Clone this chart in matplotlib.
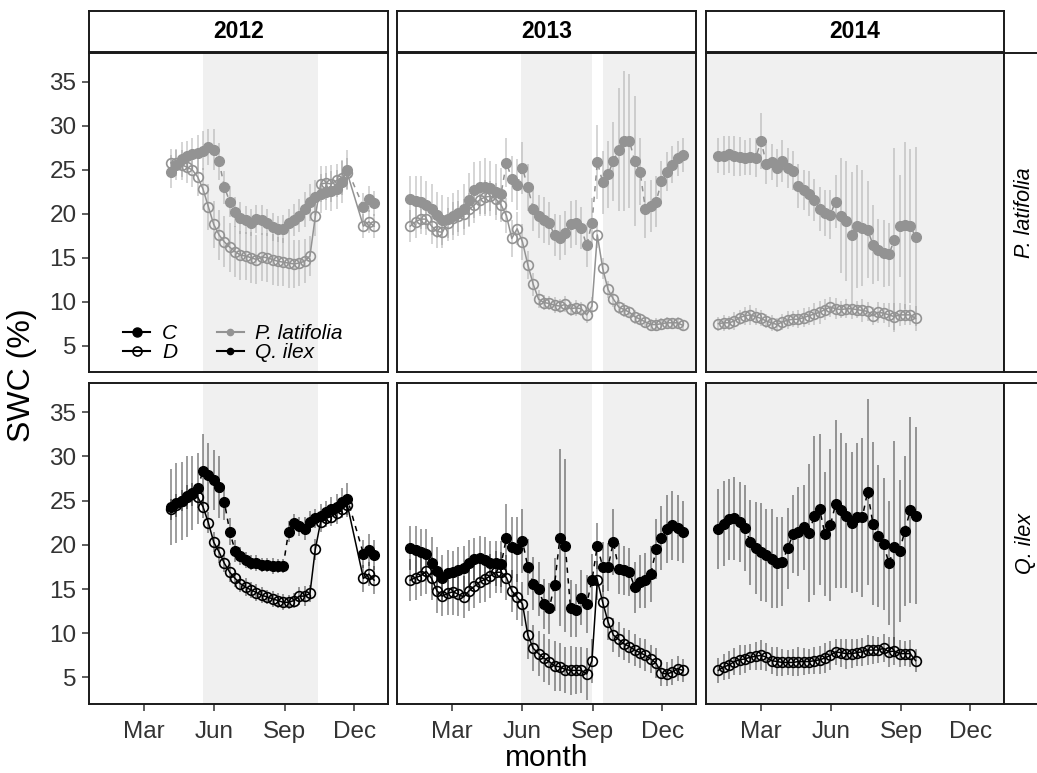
import matplotlib
matplotlib.use('Agg')
import matplotlib.pyplot as plt
from matplotlib.lines import Line2D

plt.rcParams['font.family'] = ['Liberation Sans', 'DejaVu Sans']

# measurement days (day of year) per campaign
days_2012 = [95, 102, 109, 116, 123, 130, 137, 144, 151, 158, 165, 172, 179, 186, 193, 200, 207, 214, 221,
             228, 235, 242, 249, 256, 263, 270, 277, 284, 291, 298, 305, 312, 319, 326, 347, 354, 361]
days_2013 = [5, 12, 19, 26, 33, 40, 47, 54, 61, 68, 75, 82, 89, 96, 103, 110, 117, 124, 131, 138, 145, 152,
             159, 166, 173, 180, 187, 194, 201, 208, 215, 222, 229, 236, 243, 250, 257, 264, 271, 278, 285,
             292, 299, 306, 313, 320, 327, 334, 341, 348, 355, 362]
days_2014 = [4, 11, 18, 25, 32, 39, 46, 53, 60, 67, 74, 81, 88, 95, 102, 109, 116, 123, 130, 137, 144, 151,
             158, 165, 172, 179, 186, 193, 200, 207, 214, 221, 228, 235, 242, 249, 256, 263]

# P. latifolia, mean SWC (%) and error half-widths
pl_c_2012 = [24.8, 25.6, 26.2, 26.6, 26.8, 26.9, 27.2, 27.6, 27.3, 26.0, 23.0, 21.4, 20.2, 19.5, 19.3, 19.0,
             19.4, 19.3, 19.0, 18.5, 18.3, 18.3, 18.9, 19.3, 19.8, 20.5, 21.3, 21.9, 22.3, 22.5, 22.6, 22.8,
             23.6, 25.0, 20.8, 21.7, 21.2]
pl_d_2012 = [25.8, 25.8, 25.6, 25.3, 25.0, 24.2, 22.8, 20.8, 18.8, 17.6, 16.8, 16.2, 15.7, 15.3, 15.2, 15.0,
             14.8, 15.1, 15.0, 14.8, 14.6, 14.5, 14.4, 14.3, 14.4, 14.6, 15.2, 19.7, 23.4, 23.5, 23.4, 23.8,
             24.1, 24.6, 18.6, 19.1, 18.6]
pl_c_2012_err = [1.9, 1.8, 2.0, 1.7, 1.8, 2.1, 2.2, 2.0, 2.3, 2.1, 1.9, 1.8, 1.7, 1.8, 1.6, 1.5, 1.6, 1.7, 1.5,
                 1.6, 1.5, 1.6, 1.7, 1.8, 1.9, 2.0, 2.1, 2.0, 2.2, 2.1, 2.3, 2.2, 2.4, 2.3, 1.6, 1.5, 1.4]
pl_d_2012_err = [1.6, 1.5, 1.7, 1.8, 2.0, 2.2, 2.4, 2.6, 2.7, 2.8, 2.9, 2.8, 2.9, 2.8, 2.7, 2.9, 2.8, 2.7, 2.8,
                 2.9, 2.8, 2.7, 2.8, 2.7, 2.6, 2.5, 2.3, 2.2, 2.0, 1.9, 2.1, 1.9, 2.0, 1.8, 1.4, 1.3, 1.4]

pl_c_2013 = [21.7, 21.5, 21.3, 21.0, 20.5, 19.9, 19.3, 19.4, 19.7, 20.1, 20.5, 21.6, 22.7, 23.0, 23.1, 22.9,
             22.5, 22.3, 25.8, 24.0, 23.3, 25.2, 23.0, 20.6, 19.7, 19.3, 18.9, 17.6, 17.3, 17.8, 18.8, 19.0,
             18.4, 16.4, 19.0, 25.9, 23.6, 24.5, 26.0, 27.3, 28.3, 28.3, 26.0, 24.8, 20.5, 20.9, 21.4, 23.7,
             24.8, 25.6, 26.3, 26.7]
pl_d_2013 = [18.6, 19.1, 19.4, 19.4, 18.6, 18.0, 17.9, 19.0, 19.5, 19.7, 20.0, 20.5, 21.0, 21.6, 21.9, 22.0,
             21.7, 21.0, 19.8, 17.2, 18.3, 16.8, 14.2, 12.0, 10.3, 9.9, 9.8, 9.6, 9.5, 9.7, 9.2, 9.3, 9.2, 8.5,
             9.5, 17.6, 13.8, 11.4, 10.3, 9.4, 9.1, 8.8, 8.3, 8.0, 7.7, 7.4, 7.4, 7.5, 7.6, 7.6, 7.6, 7.3]
pl_c_2013_err = [2.6, 2.8, 3.0, 2.7, 2.9, 2.6, 2.8, 2.5, 2.7, 2.6, 2.9, 3.1, 3.2, 3.0, 3.3, 3.1, 3.2, 2.9, 2.8,
                 2.6, 2.9, 3.0, 2.7, 2.5, 2.4, 2.6, 2.5, 2.4, 2.6, 2.5, 2.7, 2.6, 2.4, 2.5, 2.8, 4.2, 3.6, 3.8,
                 4.5, 7.0, 8.0, 7.6, 7.4, 3.8, 3.2, 3.0, 2.9, 2.3, 2.2, 2.1, 2.0, 1.9]
pl_d_2013_err = [1.8, 1.9, 1.7, 1.8, 2.0, 1.9, 1.8, 1.7, 1.9, 1.8, 1.7, 1.9, 2.0, 1.8, 1.9, 1.7, 1.8, 1.9, 2.0,
                 2.1, 1.9, 2.0, 1.6, 1.3, 1.0, 0.9, 0.8, 0.9, 0.8, 0.9, 0.8, 0.9, 0.8, 0.9, 1.0, 1.5, 1.2, 1.0,
                 0.9, 0.8, 0.8, 0.7, 0.8, 0.7, 0.7, 0.6, 0.7, 0.6, 0.7, 0.6, 0.7, 0.6]

pl_c_2014 = [26.6, 26.6, 26.8, 26.6, 26.5, 26.4, 26.5, 26.4, 28.3, 25.7, 25.9, 25.2, 26.0, 25.2, 24.9, 23.2,
             22.7, 22.3, 21.6, 20.5, 20.1, 19.9, 21.4, 19.8, 19.2, 17.6, 18.6, 18.4, 18.2, 16.5, 15.9, 15.5,
             15.4, 17.0, 18.6, 18.7, 18.6, 17.4]
pl_d_2014 = [7.5, 7.6, 7.6, 7.8, 8.2, 8.4, 8.5, 8.3, 8.1, 7.8, 7.6, 7.4, 7.7, 7.9, 8.0, 8.0, 8.2, 8.4, 8.6, 8.8,
             9.1, 9.4, 9.2, 9.1, 9.2, 9.2, 9.1, 9.0, 8.9, 8.4, 8.8, 8.7, 8.5, 8.3, 8.5, 8.5, 8.5, 8.1]
pl_c_2014_err = [2.0, 2.2, 2.1, 2.3, 2.2, 2.0, 2.1, 2.2, 3.2, 2.3, 2.1, 2.2, 2.4, 2.3, 2.2, 2.5, 2.3, 2.6, 2.4,
                 2.5, 2.6, 2.8, 3.0, 6.5, 6.8, 7.2, 7.0, 6.6, 5.5, 4.5, 3.5, 3.8, 3.6, 10.5, 5.8, 9.5, 8.8, 10.2]
pl_d_2014_err = [0.8, 0.9, 0.8, 1.0, 0.9, 1.0, 1.1, 1.0, 0.9, 0.8, 0.9, 0.8, 0.9, 1.0, 0.9, 1.0, 1.1, 1.0, 1.2,
                 1.3, 1.2, 1.1, 1.2, 1.0, 1.1, 1.2, 1.0, 1.3, 1.1, 1.0, 1.2, 1.1, 1.4, 1.5, 1.3, 1.2, 1.1, 1.4]

# Q. ilex
qi_c_2012 = [24.3, 24.7, 25.0, 25.5, 25.9, 26.4, 28.4, 27.9, 27.3, 26.5, 24.8, 21.5, 19.3, 18.7, 18.3, 18.0,
             17.9, 17.7, 17.7, 17.6, 17.6, 17.6, 21.5, 22.5, 22.1, 21.8, 22.6, 23.0, 23.3, 23.7, 24.0, 24.3,
             24.8, 25.2, 19.0, 19.4, 18.8]
qi_d_2012 = [24.0, 24.5, 25.0, 25.4, 25.7, 25.4, 24.3, 22.5, 20.3, 19.2, 17.9, 16.9, 16.2, 15.6, 15.2, 14.9,
             14.6, 14.3, 14.1, 13.9, 13.7, 13.5, 13.5, 13.7, 14.2, 14.2, 14.5, 19.5, 22.6, 23.0, 23.2, 23.6,
             24.1, 24.5, 16.2, 16.7, 16.0]
qi_c_2012_err = [4.3, 4.5, 4.4, 4.6, 4.2, 4.0, 4.1, 3.6, 3.4, 3.5, 2.0, 1.5, 1.2, 1.0, 0.9, 0.8, 0.9, 0.8, 0.8,
                 0.9, 0.8, 0.8, 1.2, 1.0, 1.1, 1.3, 1.2, 1.1, 1.3, 1.2, 1.4, 1.5, 1.6, 1.8, 1.6, 1.8, 1.7]
qi_d_2012_err = [1.2, 1.3, 1.2, 1.4, 1.3, 1.2, 1.3, 1.2, 1.1, 1.2, 1.0, 1.1, 1.0, 0.9, 1.0, 0.9, 1.0, 0.9, 0.8,
                 0.9, 0.8, 0.9, 0.8, 0.9, 1.0, 1.1, 1.0, 1.2, 1.1, 1.0, 1.1, 1.2, 1.1, 1.3, 1.5, 1.4, 1.6]

qi_c_2013 = [19.6, 19.4, 19.2, 19.0, 17.9, 17.0, 16.3, 16.8, 16.9, 17.1, 17.4, 17.9, 18.4, 18.5, 18.3, 18.0,
             17.9, 17.8, 20.8, 19.7, 19.5, 20.4, 17.5, 15.6, 15.0, 13.3, 12.8, 15.5, 20.8, 19.9, 12.8, 12.6,
             14.0, 13.3, 16.0, 19.9, 17.5, 17.5, 20.3, 17.3, 17.1, 16.9, 15.2, 15.8, 16.0, 16.7, 19.5, 20.8,
             21.8, 22.2, 21.9, 21.4]
qi_d_2013 = [16.0, 16.3, 16.5, 17.0, 16.2, 14.8, 14.2, 14.5, 14.7, 14.4, 14.1, 14.8, 15.3, 15.8, 16.1, 16.5,
             16.9, 16.9, 16.3, 14.8, 14.1, 13.3, 9.8, 8.3, 7.7, 7.2, 6.8, 6.3, 6.2, 5.9, 5.8, 5.8, 5.8, 5.4,
             6.9, 16.0, 13.5, 11.3, 9.8, 9.3, 8.8, 8.5, 8.1, 7.8, 7.5, 7.1, 6.6, 5.5, 5.4, 5.6, 6.0, 5.8]
qi_c_2013_err = [2.5, 2.7, 2.6, 2.8, 3.0, 2.7, 2.5, 2.6, 2.4, 2.6, 2.5, 2.7, 2.4, 2.5, 2.6, 2.4, 2.5, 2.6, 3.8,
                 3.5, 3.7, 3.6, 3.2, 3.0, 3.1, 2.8, 2.9, 3.0, 10.0, 9.8, 3.2, 3.0, 3.1, 3.3, 3.0, 2.6, 2.8, 2.7,
                 3.7, 2.9, 2.8, 2.7, 2.9, 3.0, 3.1, 3.2, 3.4, 3.6, 3.8, 3.9, 3.7, 3.5]
qi_d_2013_err = [2.4, 2.5, 2.3, 2.6, 2.4, 2.5, 2.3, 2.4, 2.6, 2.5, 2.4, 2.3, 2.5, 2.4, 2.6, 2.5, 2.4, 2.3, 2.5,
                 2.4, 2.6, 2.5, 2.7, 2.6, 2.5, 2.7, 2.6, 2.8, 2.7, 2.6, 2.8, 2.7, 2.6, 2.9, 2.5, 2.2, 2.0, 2.1,
                 1.9, 2.0, 1.8, 1.9, 1.8, 1.7, 1.8, 1.6, 1.7, 1.5, 1.4, 1.5, 1.4, 1.3]

qi_c_2014 = [21.8, 22.4, 22.9, 23.0, 22.6, 21.9, 20.3, 19.6, 19.2, 18.8, 18.4, 18.0, 18.1, 19.6, 21.2, 21.5,
             22.0, 21.3, 23.3, 24.0, 21.2, 22.2, 24.6, 23.9, 23.3, 22.5, 23.1, 23.1, 26.0, 22.4, 21.0, 20.1,
             17.9, 19.7, 19.3, 21.6, 23.9, 23.3]
qi_d_2014 = [5.8, 6.2, 6.4, 6.8, 7.0, 7.1, 7.3, 7.4, 7.5, 7.3, 6.9, 6.8, 6.7, 6.7, 6.7, 6.8, 6.8, 6.8, 6.9, 7.0,
             7.2, 7.5, 7.9, 7.8, 7.7, 7.7, 7.8, 7.9, 8.1, 8.1, 8.1, 8.3, 7.9, 8.0, 7.7, 7.7, 7.7, 6.9]
qi_c_2014_err = [4.5, 4.8, 4.6, 4.7, 4.5, 4.9, 4.8, 5.2, 5.5, 5.3, 5.6, 5.1, 5.0, 4.6, 4.4, 5.0, 4.8, 7.8, 9.0,
                 8.5, 7.0, 8.6, 9.5, 8.8, 8.2, 8.0, 8.4, 9.0, 10.5, 9.2, 8.0, 7.5, 7.0, 12.0, 8.0, 8.5, 10.5, 10.0]
qi_d_2014_err = [1.4, 1.5, 1.6, 1.5, 1.7, 1.6, 1.5, 1.6, 1.7, 1.6, 1.5, 1.6, 1.5, 1.4, 1.5, 1.6, 1.5, 1.4, 1.5,
                 1.6, 1.7, 1.6, 1.5, 1.6, 1.7, 1.6, 1.5, 1.6, 1.7, 1.6, 1.5, 1.6, 1.7, 1.6, 1.5, 1.4, 1.5, 1.3]

years = ['2012', '2013', '2014']
species = ['P. latifolia', 'Q. ilex']
month_ticks = [60, 152, 244, 335]
month_labels = ['Mar', 'Jun', 'Sep', 'Dec']

# drought (rain exclusion) periods, day of year
dry_periods = {
    '2012': [(137, 287)],
    '2013': [(150, 243.5), (257.5, 400)],
    '2014': [(-20, 400)],
}

days = {'2012': days_2012, '2013': days_2013, '2014': days_2014}
series = {
    ('P. latifolia', '2012'): (pl_c_2012, pl_c_2012_err, pl_d_2012, pl_d_2012_err),
    ('P. latifolia', '2013'): (pl_c_2013, pl_c_2013_err, pl_d_2013, pl_d_2013_err),
    ('P. latifolia', '2014'): (pl_c_2014, pl_c_2014_err, pl_d_2014, pl_d_2014_err),
    ('Q. ilex', '2012'): (qi_c_2012, qi_c_2012_err, qi_d_2012, qi_d_2012_err),
    ('Q. ilex', '2013'): (qi_c_2013, qi_c_2013_err, qi_d_2013, qi_d_2013_err),
    ('Q. ilex', '2014'): (qi_c_2014, qi_c_2014_err, qi_d_2014, qi_d_2014_err),
}
sp_color = {'P. latifolia': '#939393', 'Q. ilex': 'black'}

W, H = 1037, 773
fig = plt.figure(figsize=(W / 100, H / 100), dpi=100)


def px_axes(x0, y0, x1, y1):
    return fig.add_axes([x0 / W, 1 - y1 / H, (x1 - x0) / W, (y1 - y0) / H])


def frame(ax):
    for s in ax.spines.values():
        s.set_linewidth(1.4)
        s.set_color('#1a1a1a')


col_x = [(89, 388), (397, 696), (706, 1004)]
row_y = [(53, 372), (383, 704)]
TICK_FS = 17.5

for r, sp in enumerate(species):
    col = sp_color[sp]
    for c, yr in enumerate(years):
        ax = px_axes(col_x[c][0], row_y[r][0], col_x[c][1], row_y[r][1])
        ax.set_xlim(-12.3, 379.2)
        ax.set_ylim(2.0, 38.3)
        for a, b in dry_periods[yr]:
            ax.axvspan(a, b, color='#f0f0f0', lw=0, zorder=0)

        x = days[yr]
        c_vals, c_err, d_vals, d_err = series[(sp, yr)]
        for vals, errs in ((d_vals, d_err), (c_vals, c_err)):
            ax.vlines(x, [v - e for v, e in zip(vals, errs)], [v + e for v, e in zip(vals, errs)],
                      color=col, alpha=0.45, lw=1.2, zorder=1)
        ax.plot(x, d_vals, '-', color=col, lw=1.1, zorder=2)
        ax.plot(x, d_vals, 'o', mfc='none', mec=col, mew=1.2, ms=7, zorder=3)
        ax.plot(x, c_vals, '--', color=col, lw=1.1, dashes=(3.5, 3.5), zorder=2)
        ax.plot(x, c_vals, 'o', color=col, ms=7, zorder=4)

        frame(ax)
        ax.set_xticks(month_ticks)
        ax.set_yticks([5, 10, 15, 20, 25, 30, 35])
        ax.tick_params(direction='out', length=5, width=1.1, color='#333333',
                       labelsize=TICK_FS, labelcolor='#333333')
        ax.tick_params(axis='y', pad=4)
        ax.tick_params(axis='x', pad=7)
        if r == 0:
            ax.tick_params(axis='x', bottom=False, labelbottom=False)
        else:
            ax.set_xticklabels(month_labels)
        if c > 0:
            ax.tick_params(axis='y', left=False, labelleft=False)

        if r == 0 and c == 0:
            handles = [
                Line2D([], [], color='black', marker='o', ms=6.5, lw=1.5),
                Line2D([], [], color='black', marker='o', mfc='none', mew=1.2, ms=6.5, lw=1.5),
                Line2D([], [], color=sp_color['P. latifolia'], marker='o', ms=4.5, lw=1.5),
                Line2D([], [], color='black', marker='o', ms=4.5, lw=1.5),
            ]
            labels = ['C', 'D', 'P. latifolia', 'Q. ilex']
            ax.legend(handles, labels, ncol=2, loc='lower left', bbox_to_anchor=(0.115, 0.03),
                      frameon=False, borderpad=0, borderaxespad=0, handlelength=1.3,
                      handletextpad=0.55, columnspacing=1.9, labelspacing=0.0,
                      prop={'size': 15, 'style': 'italic'})

# facet strips
for c, yr in enumerate(years):
    sax = px_axes(col_x[c][0], 11, col_x[c][1], 52)
    sax.set_xticks([])
    sax.set_yticks([])
    frame(sax)
    sax.text(0.5, 0.5, yr, ha='center', va='center', fontsize=16.5, fontweight='bold',
             transform=sax.transAxes)

for r, sp in enumerate(species):
    sax = px_axes(1004, row_y[r][0], 1046, row_y[r][1])
    sax.set_xticks([])
    sax.set_yticks([])
    frame(sax)
    sax.text(0.5, 0.5, sp, ha='center', va='center', fontsize=15.5, style='italic',
             rotation=90, transform=sax.transAxes)

fig.text(22 / W, 1 - 375 / H, 'SWC (%)', rotation=90, ha='center', va='center', fontsize=23)
fig.text(546.5 / W, 1 - 758 / H, 'month', ha='center', va='center', fontsize=21.5)

fig.savefig('out.png', dpi=100)
